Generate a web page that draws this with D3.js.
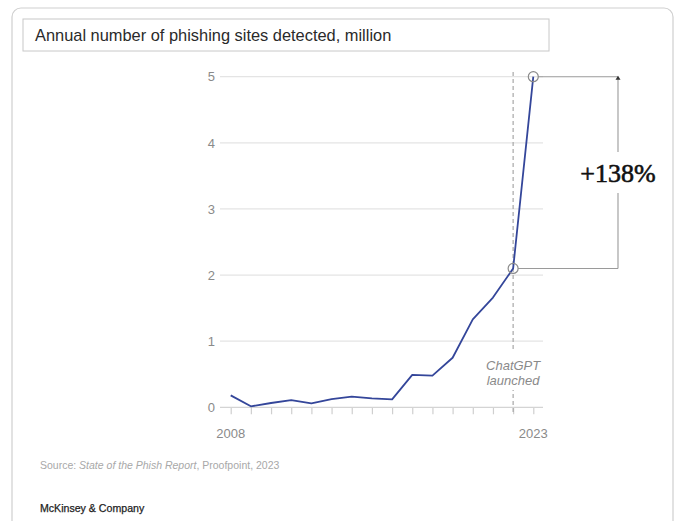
<!DOCTYPE html>
<html>
<head>
<meta charset="utf-8">
<script src="https://cdn.jsdelivr.net/npm/d3@7"></script>
<style>
  html, body { margin: 0; padding: 0; background: #fff; }
  svg { display: block; font-family: "Liberation Sans", Arial, sans-serif; }
</style>
</head>
<body>
<svg id="chart" width="677" height="521"></svg>
<script>
const years = [2008, 2009, 2010, 2011, 2012, 2013, 2014, 2015, 2016, 2017, 2018, 2019, 2020, 2021, 2022, 2023];
const sitesMillion = [0.18, 0.015, 0.065, 0.11, 0.06, 0.125, 0.16, 0.135, 0.12, 0.49, 0.48, 0.75, 1.33, 1.66, 2.1, 5.0];
const yTicks = [0, 1, 2, 3, 4, 5];
const xTickLabels = [2008, 2023];
const title = "Annual number of phishing sites detected, million";
const annotationYear = 2022;
const annotationText = ["ChatGPT", "launched"];
const changeLabel = "+138%";

const svg = d3.select("#chart");

// Card
svg.append("rect").attr("x", 12).attr("y", 8).attr("width", 661).attr("height", 530)
  .attr("rx", 9).attr("fill", "#fff").attr("stroke", "#cfcfcf").attr("stroke-width", 1.2);

// Title box
svg.append("rect").attr("x", 23).attr("y", 19).attr("width", 526).attr("height", 32)
  .attr("fill", "#fff").attr("stroke", "#c8c8c8").attr("stroke-width", 1);
svg.append("text").attr("x", 35).attr("y", 41).attr("font-size", 16.4).attr("fill", "#2a2a2a")
  .text(title);

const x = d3.scaleLinear().domain([2008, 2023]).range([230.7, 533.3]);
const y = d3.scaleLinear().domain([0, 5]).range([407.3, 76.7]);
const gridX0 = 220, gridX1 = 543;

// Gridlines
svg.append("g").selectAll("line").data(yTicks.filter(d => d > 0)).join("line")
  .attr("x1", gridX0).attr("x2", gridX1)
  .attr("y1", d => y(d)).attr("y2", d => y(d))
  .attr("stroke", "#e4e4e4").attr("stroke-width", 1.2);

// Y axis labels
svg.append("g").selectAll("text").data(yTicks).join("text")
  .attr("x", 215).attr("y", d => y(d)).attr("dy", "0.36em")
  .attr("text-anchor", "end").attr("font-size", 13).attr("fill", "#8a8a8a")
  .text(d => d);

// X axis
const xAxis = d3.axisBottom(x).tickValues(years).tickSize(7).tickFormat("");
const gx = svg.append("g").attr("transform", `translate(0,${y(0)})`).call(xAxis);
gx.select(".domain").remove();
gx.selectAll(".tick line").attr("stroke", "#cfcfcf").attr("stroke-width", 1.2);
svg.append("line").attr("x1", gridX0).attr("x2", gridX1).attr("y1", y(0)).attr("y2", y(0))
  .attr("stroke", "#d4d4d4").attr("stroke-width", 1.2);
svg.append("g").selectAll("text").data(xTickLabels).join("text")
  .attr("x", d => x(d)).attr("y", 438).attr("text-anchor", "middle")
  .attr("font-size", 13).attr("fill", "#8a8a8a").text(d => d);

// Dashed annotation line
svg.append("line").attr("x1", x(annotationYear)).attr("x2", x(annotationYear))
  .attr("y1", 72).attr("y2", y(0) + 7)
  .attr("stroke", "#a8a8a8").attr("stroke-width", 1.2).attr("stroke-dasharray", "4,3");
svg.append("rect").attr("x", x(annotationYear) - 29).attr("y", 352).attr("width", 58).attr("height", 38)
  .attr("fill", "#fff");
svg.append("g").selectAll("text").data(annotationText).join("text")
  .attr("x", x(annotationYear)).attr("y", (d, i) => 370 + i * 15)
  .attr("text-anchor", "middle").attr("font-size", 13).attr("font-style", "italic")
  .attr("fill", "#8a8a8a").text(d => d);

// Line
const line = d3.line().x((d, i) => x(years[i])).y(d => y(d));
svg.append("path").datum(sitesMillion).attr("d", line)
  .attr("fill", "none").attr("stroke", "#34469a").attr("stroke-width", 1.8)
  .attr("stroke-linejoin", "round");

// Bracket
const i22 = years.indexOf(2022), i23 = years.indexOf(2023);
const bx = 618;
const yTop = y(sitesMillion[i23]), yBot = y(sitesMillion[i22]);
const bracketColor = "#9a9a9a";
svg.append("line").attr("x1", x(2023) + 5).attr("x2", bx).attr("y1", yTop).attr("y2", yTop)
  .attr("stroke", bracketColor).attr("stroke-width", 1.1);
svg.append("line").attr("x1", x(2022) + 5).attr("x2", bx).attr("y1", yBot).attr("y2", yBot)
  .attr("stroke", bracketColor).attr("stroke-width", 1.1);
svg.append("line").attr("x1", bx).attr("x2", bx).attr("y1", yTop).attr("y2", 152)
  .attr("stroke", bracketColor).attr("stroke-width", 1.1);
svg.append("line").attr("x1", bx).attr("x2", bx).attr("y1", 193).attr("y2", yBot)
  .attr("stroke", bracketColor).attr("stroke-width", 1.1);
svg.append("path").attr("d", `M${bx - 2.5},${yTop + 3} L${bx},${yTop - 1} L${bx + 2.5},${yTop + 3} Z`)
  .attr("fill", "#333");
svg.append("text").attr("x", bx).attr("y", 182).attr("text-anchor", "middle")
  .attr("font-family", "'Liberation Serif', 'Times New Roman', serif")
  .attr("font-size", 26).attr("fill", "#111").attr("stroke", "#111").attr("stroke-width", 0.6)
  .text(changeLabel);

// Circles
svg.append("g").selectAll("circle").data([i22, i23]).join("circle")
  .attr("cx", i => x(years[i])).attr("cy", i => y(sitesMillion[i])).attr("r", 5)
  .attr("fill", "none").attr("stroke", "#8a8a8a").attr("stroke-width", 1.2);

// Source & brand
const src = svg.append("text").attr("x", 40).attr("y", 469).attr("font-size", 10.5).attr("fill", "#a8a8a8");
src.append("tspan").text("Source: ");
src.append("tspan").attr("font-style", "italic").text("State of the Phish Report");
src.append("tspan").text(", Proofpoint, 2023");
svg.append("text").attr("x", 40).attr("y", 512).attr("font-size", 10.6)
  .attr("fill", "#222").attr("stroke", "#222").attr("stroke-width", 0.25).text("McKinsey & Company");
</script>
</body>
</html>
